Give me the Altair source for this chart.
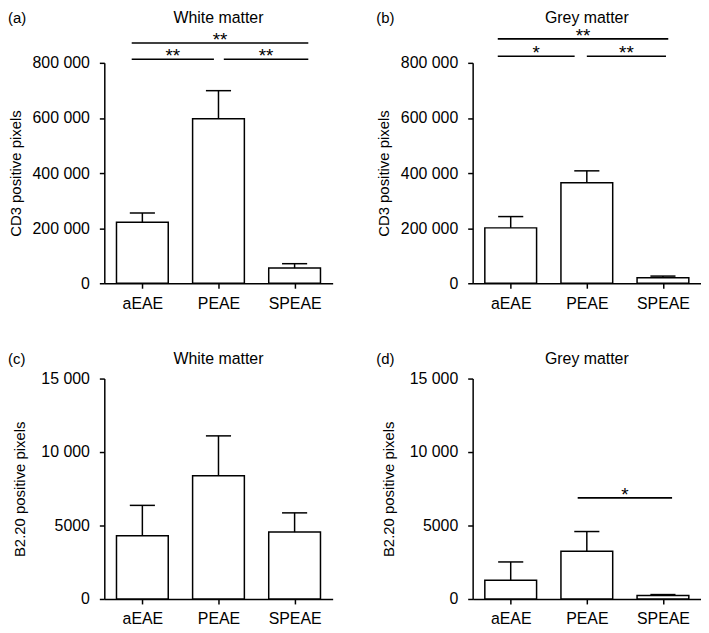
import altair as alt
import pandas as pd

groups = ["aEAE", "PEAE", "SPEAE"]

# CD3 positive pixels (mean and SEM)
cd3_white_mean = [221000, 597000, 55000]
cd3_white_sem = [34000, 102000, 16000]
cd3_grey_mean = [201000, 365000, 20000]
cd3_grey_sem = [41000, 43000, 6000]

# B2.20 positive pixels (mean and SEM)
b220_white_mean = [4300, 8380, 4550]
b220_white_sem = [2070, 2720, 1310]
b220_grey_mean = [1280, 3240, 230]
b220_grey_sem = [1240, 1350, 70]

# significance brackets (ends in group-index units, level in data units)
sig_a_start = [-0.14, -0.14, 1.07]
sig_a_end = [2.18, 0.94, 2.18]
sig_a_level = [872000, 813000, 813000]
sig_a_label = ["**", "**", "**"]

sig_b_start = [-0.17, -0.17, 1.0]
sig_b_end = [2.07, 0.84, 2.04]
sig_b_level = [887000, 824000, 824000]
sig_b_label = ["**", "*", "**"]

sig_d_start = [0.88]
sig_d_end = [2.12]
sig_d_level = [6880]
sig_d_label = ["*"]

cd3_ticks = [0, 200000, 400000, 600000, 800000]
b220_ticks = [0, 5000, 10000, 15000]

FONT = "Liberation Sans"
label_expr_x = "[" + ",".join("'" + g + "'" for g in groups) + "][datum.value]"
label_expr_y = ("datum.value >= 10000 ? replace(format(datum.value, ','), ',', ' ') "
                ": format(datum.value, 'd')")


def panel(letter, title, ytitle, means, sems, ymax, yticks, tpad, title_y,
          sig=None):
    df = pd.DataFrame({"group": groups, "idx": list(range(len(groups))),
                       "mean": means, "sem": sems})
    xscale = alt.Scale(domain=[-0.5, len(groups) - 0.5], nice=False, zero=False)
    yscale = alt.Scale(domain=[0, ymax], nice=False)
    xaxis = alt.Axis(values=list(range(len(groups))), labelExpr=label_expr_x,
                     title=None, grid=False, labelPadding=7)
    yaxis = alt.Axis(values=yticks, labelExpr=label_expr_y, title=ytitle,
                     grid=False, labelPadding=10, titlePadding=tpad)

    def X(f):
        return alt.X(f, scale=xscale, axis=xaxis, title=None)

    def Y(f):
        return alt.Y(f, scale=yscale, axis=yaxis, title=ytitle)

    base = alt.Chart(df).transform_calculate(
        upper="datum.mean + datum.sem",
        lo="datum.idx - 0.34", hi="datum.idx + 0.34",
        clo="datum.idx - 0.165", chi="datum.idx + 0.165",
        zero="0",
    )
    bars = base.mark_bar(fill="white", stroke="black", strokeWidth=1.5).encode(
        x=X("lo:Q"), x2="hi:Q", y=Y("mean:Q"), y2="zero:Q")
    err = base.mark_rule(color="black", strokeWidth=1.5).encode(
        x=X("idx:Q"), y=Y("mean:Q"), y2="upper:Q")
    cap = base.mark_rule(color="black", strokeWidth=1.5).encode(
        x=X("clo:Q"), x2="chi:Q", y=Y("upper:Q"))
    layers = [bars, err, cap]

    if sig is not None:
        sdf = pd.DataFrame({"start": sig[0], "end": sig[1], "level": sig[2],
                            "label": sig[3]})
        sbase = alt.Chart(sdf).transform_calculate(
            mid="(datum.start + datum.end) / 2")
        layers.append(sbase.mark_rule(color="black", strokeWidth=1.6).encode(
            x=X("start:Q"), x2="end:Q", y=Y("level:Q")))
        layers.append(sbase.mark_text(baseline="alphabetic", dy=3, fontSize=19,
                                      font=FONT, color="black").encode(
            x=X("mid:Q"), y=Y("level:Q"), text="label:N"))

    tdf = pd.DataFrame({"letter": [letter], "title": [title]})
    tbase = alt.Chart(tdf)
    layers.append(tbase.mark_text(align="left", baseline="middle", fontSize=15,
                                  font=FONT, color="black").encode(
        x=alt.value(-97), y=alt.value(title_y), text="letter:N"))
    layers.append(tbase.mark_text(align="center", baseline="middle", fontSize=16,
                                  font=FONT, color="black").encode(
        x=alt.datum(1), y=alt.value(title_y), text="title:N"))

    return alt.layer(*layers).properties(width=230, height=222)


pa = panel("(a)", "White matter", "CD3 positive pixels", cd3_white_mean,
           cd3_white_sem, 800000, cd3_ticks, 9, -45,
           (sig_a_start, sig_a_end, sig_a_level, sig_a_label))
pb = panel("(b)", "Grey matter", "CD3 positive pixels", cd3_grey_mean,
           cd3_grey_sem, 800000, cd3_ticks, 9, -45,
           (sig_b_start, sig_b_end, sig_b_level, sig_b_label))
pc = panel("(c)", "White matter", "B2.20 positive pixels", b220_white_mean,
           b220_white_sem, 15000, b220_ticks, 13, -20)
pd_ = panel("(d)", "Grey matter", "B2.20 positive pixels", b220_grey_mean,
            b220_grey_sem, 15000, b220_ticks, 13, -20,
            (sig_d_start, sig_d_end, sig_d_level, sig_d_label))

chart = alt.concat(pa, pb, pc, pd_, columns=2,
                   spacing={"row": 96, "column": 141},
                   bounds="flush").properties(padding=0)
chart = chart.configure(font=FONT).configure_view(strokeWidth=0).configure_axis(
    labelFont=FONT, labelFontSize=16, labelColor="black",
    titleFont=FONT, titleFontSize=15, titleFontWeight="normal", titleColor="black",
    domainColor="black", domainWidth=1.5, tickColor="black", tickWidth=1.5,
    tickSize=5,
)

chart.save("out.html", embed_options={"renderer": "svg", "actions": False})
